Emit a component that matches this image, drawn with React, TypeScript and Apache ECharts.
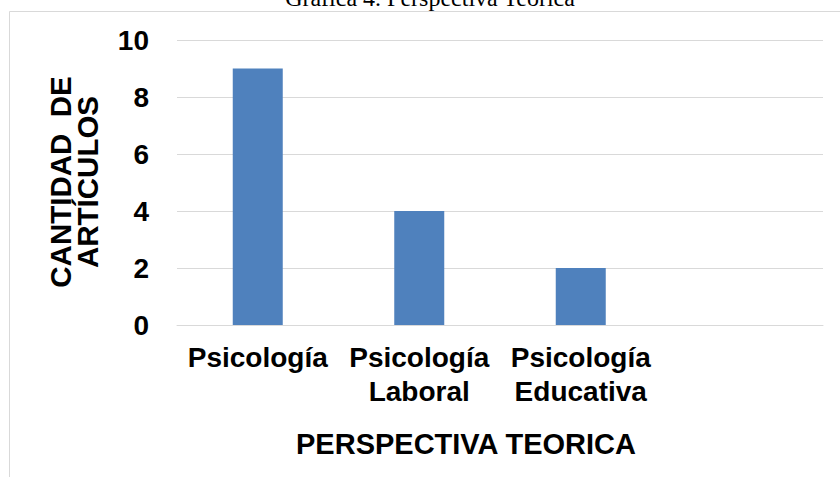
import React, { useEffect, useRef } from "react";
import * as echarts from "echarts";

const categories = ["Psicología", "Psicología\nLaboral", "Psicología\nEducativa", ""];
const values: (number | null)[] = [9, 4, 2, null];
const yTicks = { min: 0, max: 10, interval: 2 };
const titleText = "Gráfica 4. Perspectiva Teórica";
const xAxisTitle = "PERSPECTIVA TEORICA";
const yAxisTitle = "CANTIDAD  DE\nARTÍCULOS";

export default function App() {
  const ref = useRef<HTMLDivElement>(null);
  useEffect(() => {
    if (!ref.current) return;
    const chart = echarts.init(ref.current, null, { renderer: "svg" });
    const font = "'Liberation Sans', Arial, sans-serif";
    chart.setOption({
      animation: false,
      backgroundColor: "#ffffff",
      grid: { left: 177, right: 17, top: 40, bottom: 152, containLabel: false },
      xAxis: {
        type: "category",
        data: categories,
        axisLine: { show: true, lineStyle: { color: "#d9d9d9", width: 1 } },
        axisTick: { show: false },
        axisLabel: {
          interval: 0,
          margin: 15,
          color: "#000000",
          fontFamily: font,
          fontWeight: "bold",
          fontSize: 28,
          lineHeight: 34,
          align: "center",
        },
      },
      yAxis: {
        type: "value",
        min: yTicks.min,
        max: yTicks.max,
        interval: yTicks.interval,
        axisLine: { show: false },
        axisTick: { show: false },
        splitLine: { show: true, lineStyle: { color: "#d9d9d9", width: 1 } },
        axisLabel: {
          margin: 28,
          color: "#000000",
          fontFamily: font,
          fontWeight: "bold",
          fontSize: 28,
        },
      },
      series: [
        {
          type: "bar",
          data: values,
          barWidth: 50,
          itemStyle: { color: "#4f81bd" },
        },
      ],
      graphic: [
        {
          type: "rect",
          shape: { x: 9.5, y: 11.5, width: 900, height: 600 },
          style: { fill: "none", stroke: "#d9d9d9", lineWidth: 1 },
          z: -1,
        },
        {
          type: "text",
          x: 430,
          y: 10,
          style: {
            text: titleText,
            fill: "#000000",
            font: "24px 'Liberation Serif', 'Times New Roman', serif",
            textAlign: "center",
            textVerticalAlign: "bottom",
          },
        },
        {
          type: "text",
          x: 466,
          y: 444,
          style: {
            text: xAxisTitle,
            fill: "#000000",
            font: "bold 29px " + font,
            textAlign: "center",
            textVerticalAlign: "middle",
          },
        },
        {
          type: "text",
          x: 74,
          y: 182,
          rotation: Math.PI / 2,
          style: {
            text: yAxisTitle,
            fill: "#000000",
            font: "bold 29.5px " + font,
            lineHeight: 27,
            textAlign: "center",
            textVerticalAlign: "middle",
          },
        },
      ],
    });
    return () => chart.dispose();
  }, []);
  return (
    <div
      ref={ref}
      style={{ position: "absolute", left: 0, top: 0, width: 840, height: 477 }}
    />
  );
}
